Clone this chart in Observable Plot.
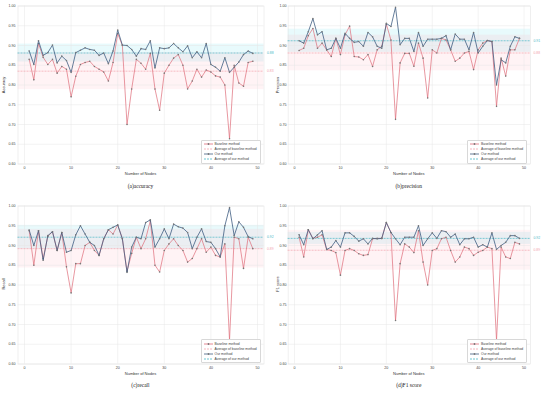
<!DOCTYPE html>
<html><head><meta charset="utf-8">
<script src="https://cdn.jsdelivr.net/npm/d3@7"></script>
<script src="https://cdn.jsdelivr.net/npm/@observablehq/plot@0.6"></script>
<style>
body{margin:0;background:#fff;}
#root{position:relative;width:550px;height:398px;overflow:hidden;font-family:"Liberation Sans",Arial,sans-serif;}
.panel{position:absolute;}
.ylab{position:absolute;font-size:4px;color:#333;white-space:nowrap;transform:translate(-50%,-50%) rotate(-90deg);}
.xlab{position:absolute;font-size:4px;color:#333;white-space:nowrap;transform:translate(-50%,-50%);}
.title{position:absolute;font-family:"Liberation Serif","Times New Roman",serif;font-size:5.5px;color:#222;white-space:nowrap;transform:translate(-50%,-50%);}
.legend{position:absolute;background:#fff;border:0.5px solid #d8d8d8;border-radius:1px;font-size:3.4px;color:#444;padding:1px 2px;box-sizing:border-box;}
.legend div{display:flex;align-items:center;height:5px;white-space:nowrap;}
.legend svg{margin-right:2px;}
</style></head><body><div id="root"></div>
<script>
const nodes = d3.range(1, 50);
const xTicks = [0, 10, 20, 30, 40, 50];
const yTicks = [0.60, 0.65, 0.70, 0.75, 0.80, 0.85, 0.90, 0.95, 1.00];

const accuracyBaseline = [0.865,0.813,0.905,0.87,0.852,0.865,0.83,0.847,0.84,0.77,
 0.822,0.852,0.857,0.86,0.847,0.84,0.833,0.81,0.857,0.93,
 0.90,0.70,0.79,0.865,0.855,0.84,0.88,0.79,0.736,0.83,
 0.85,0.868,0.877,0.85,0.79,0.81,0.84,0.82,0.838,0.833,
 0.823,0.82,0.80,0.664,0.85,0.805,0.797,0.857,0.86];
const accuracyOurs = [0.886,0.852,0.912,0.875,0.882,0.901,0.856,0.873,0.862,0.832,
 0.882,0.888,0.894,0.890,0.888,0.875,0.881,0.854,0.886,0.939,
 0.901,0.90,0.89,0.873,0.892,0.890,0.912,0.843,0.894,0.892,
 0.894,0.905,0.894,0.884,0.899,0.869,0.884,0.869,0.905,0.852,
 0.845,0.835,0.869,0.832,0.845,0.858,0.877,0.886,0.880];

const precisionBaseline = [0.8875,0.893,0.925,0.943,0.893,0.906,0.889,0.872,0.918,0.877,
 0.927,0.949,0.872,0.871,0.864,0.877,0.847,0.889,0.898,0.954,
 0.914,0.713,0.856,0.88,0.88,0.8475,0.906,0.868,0.767,0.889,
 0.881,0.918,0.914,0.889,0.86,0.868,0.881,0.885,0.839,0.889,
 0.906,0.9125,0.91,0.746,0.868,0.8225,0.889,0.889,0.918];
const precisionOurs = [0.912,0.906,0.935,0.968,0.927,0.935,0.889,0.893,0.918,0.893,
 0.931,0.918,0.908,0.91,0.898,0.933,0.922,0.898,0.893,0.956,
 0.948,0.997,0.902,0.918,0.918,0.885,0.933,0.898,0.916,0.916,
 0.916,0.918,0.925,0.889,0.929,0.916,0.916,0.889,0.933,0.881,
 0.898,0.9125,0.91,0.80,0.864,0.856,0.898,0.922,0.918];

const recallBaseline = [0.9375,0.85,0.9375,0.867,0.923,0.935,0.8875,0.933,0.846,0.78,
 0.854,0.854,0.90,0.908,0.8875,0.875,0.917,0.94,0.929,0.952,
 0.917,0.835,0.88,0.921,0.892,0.917,0.9625,0.85,0.833,0.8875,
 0.904,0.917,0.90,0.8875,0.858,0.867,0.892,0.917,0.883,0.896,
 0.875,0.871,0.904,0.66,0.921,0.917,0.842,0.921,0.892];
const recallOurs = [0.939,0.90,0.9375,0.8625,0.925,0.935,0.8875,0.933,0.883,0.8875,
 0.927,0.95,0.929,0.908,0.90,0.875,0.917,0.94,0.946,0.952,
 0.917,0.832,0.896,0.921,0.917,0.958,0.965,0.896,0.917,0.942,
 0.917,0.954,0.9475,0.944,0.933,0.892,0.921,0.942,0.91,0.908,
 0.892,0.871,0.95,0.996,0.925,0.96,0.946,0.9225,0.917];

const f1Baseline = [0.921,0.871,0.94,0.918,0.921,0.927,0.89,0.8875,0.882,0.825,
 0.8875,0.892,0.8875,0.879,0.875,0.877,0.917,0.918,0.918,0.958,
 0.933,0.71,0.854,0.904,0.896,0.882,0.9375,0.858,0.80,0.8875,
 0.892,0.917,0.921,0.8875,0.858,0.871,0.896,0.892,0.875,0.883,
 0.8875,0.896,0.892,0.66,0.896,0.871,0.867,0.908,0.904];
const f1Ours = [0.927,0.902,0.94,0.917,0.927,0.9375,0.89,0.896,0.9125,0.896,
 0.932,0.932,0.923,0.911,0.917,0.904,0.918,0.917,0.918,0.958,
 0.933,0.917,0.902,0.921,0.921,0.921,0.95,0.90,0.917,0.932,
 0.918,0.9375,0.935,0.921,0.929,0.902,0.917,0.917,0.921,0.896,
 0.902,0.896,0.932,0.89,0.90,0.908,0.925,0.925,0.918];

const averageBaseline = [0.835, 0.881, 0.892, 0.888];
const averageOurs = [0.881, 0.912, 0.921, 0.918];
const yLabels = ["Accuracy", "Precision", "Recall", "F1 score"];
const titles = ["(a)accuracy", "(b)precision", "(c)recall", "(d)F1 score"];
const legendLabels = ["Baseline method", "Average of baseline method", "Our method", "Average of our method"];

const C = {base: "#de6b78", our: "#3f5d82", avgBase: "#f2a3ad", avgOur: "#49b7c6", dot: "#777"};

const series = [
  [accuracyBaseline, accuracyOurs],
  [precisionBaseline, precisionOurs],
  [recallBaseline, recallOurs],
  [f1Baseline, f1Ours]
];

const root = document.getElementById("root");
const W = 275, H = 176, MT = 5.5, MB = 12.5;
const layouts = [
  {left: 0, top: 0, fl: 17.5, fr: 263.5},
  {left: 275, top: 0, fl: 12.6, fr: 255},
  {left: 0, top: 199.5, fl: 17.5, fr: 263.5},
  {left: 275, top: 199.5, fl: 12.6, fr: 255}
];

function sd(arr) { return d3.deviation(arr); }

series.forEach(([base, ours], i) => {
  const L = layouts[i];
  const baseData = nodes.map((n, j) => ({node: n, value: base[j]}));
  const ourData = nodes.map((n, j) => ({node: n, value: ours[j]}));
  const aB = averageBaseline[i], aO = averageOurs[i];
  const sB = sd(base), sO = sd(ours);
  const chart = Plot.plot({
    width: W, height: H,
    marginLeft: L.fl, marginRight: W - L.fr, marginTop: MT, marginBottom: MB,
    x: {domain: [-1.4, 51.4], ticks: xTicks, tickSize: 0, tickPadding: 2.5, tickFormat: d => d, label: null},
    y: {domain: [0.6, 1.0], ticks: yTicks, tickSize: 0, tickPadding: i % 2 ? 1.5 : 2.5, tickFormat: ".2f", label: null},
    style: {fontSize: "3.6px", fontFamily: "'Liberation Sans', Arial, sans-serif", color: "#444", background: "transparent", overflow: "visible"},
    marks: [
      Plot.rect([0], {y1: aO - sO, y2: aO + sO, fill: "#7fe6ef", fillOpacity: 0.18}),
      Plot.rect([0], {y1: aB - sB, y2: aB + sB, fill: "#ffb3c0", fillOpacity: 0.16}),
      Plot.ruleX(xTicks, {stroke: "#e6e6e6", strokeWidth: 0.5}),
      Plot.ruleY(yTicks, {stroke: "#e6e6e6", strokeWidth: 0.5}),
      Plot.frame({stroke: "#e0e0e0", strokeWidth: 0.5}),
      Plot.ruleY([aB], {stroke: C.avgBase, strokeWidth: 0.7, strokeDasharray: "2,1"}),
      Plot.ruleY([aO], {stroke: C.avgOur, strokeWidth: 0.7, strokeDasharray: "2,1"}),
      Plot.line(baseData, {x: "node", y: "value", stroke: C.base, strokeWidth: 0.7}),
      Plot.dot(baseData, {x: "node", y: "value", r: 0.8, fill: C.dot}),
      Plot.line(ourData, {x: "node", y: "value", stroke: C.our, strokeWidth: 0.8}),
      Plot.dot(ourData, {x: "node", y: "value", r: 0.8, fill: C.dot}),
      Plot.text([aO], {y: d => d, frameAnchor: "right", dx: 3, textAnchor: "start", text: d => d.toFixed(2), fill: C.avgOur, fontSize: 3.4}),
      Plot.text([aB], {y: d => d, frameAnchor: "right", dx: 3, textAnchor: "start", text: d => d.toFixed(2), fill: C.avgBase, fontSize: 3.4})
    ]
  });
  chart.classList.add("panel");
  chart.style.left = L.left + "px";
  chart.style.top = L.top + "px";
  root.appendChild(chart);

  const cx = L.left + (L.fl + L.fr) / 2;
  const frameBottom = L.top + H - MB;
  const yl = document.createElement("div");
  yl.className = "ylab"; yl.textContent = yLabels[i];
  yl.style.left = (L.left + (i % 2 ? 2 : 3)) + "px";
  yl.style.top = (L.top + MT + (H - MT - MB) / 2) + "px";
  root.appendChild(yl);

  const xl = document.createElement("div");
  xl.className = "xlab"; xl.textContent = "Number of Nodes";
  xl.style.left = cx + "px"; xl.style.top = (frameBottom + 9.5) + "px";
  root.appendChild(xl);

  const t = document.createElement("div");
  t.className = "title"; t.textContent = titles[i];
  t.style.left = cx + "px"; t.style.top = (frameBottom + 22) + "px";
  root.appendChild(t);

  const lg = document.createElement("div");
  lg.className = "legend";
  lg.style.left = (L.left + L.fr - 63) + "px";
  lg.style.top = (frameBottom - 24) + "px";
  lg.style.width = "60px";
  const sw = [
    {stroke: C.base, dash: null, dot: true},
    {stroke: C.avgBase, dash: "2,1", dot: false},
    {stroke: C.our, dash: null, dot: true},
    {stroke: C.avgOur, dash: "2,1", dot: false}
  ];
  sw.forEach((s, k) => {
    const row = document.createElement("div");
    row.innerHTML = `<svg width="9" height="4"><line x1="0" x2="9" y1="2" y2="2" stroke="${s.stroke}" stroke-width="0.8" ${s.dash ? `stroke-dasharray="${s.dash}"` : ""}/>${s.dot ? `<circle cx="4.5" cy="2" r="0.9" fill="${C.dot}"/>` : ""}</svg><span>${legendLabels[k]}</span>`;
    lg.appendChild(row);
  });
  root.appendChild(lg);
});
</script>
</body></html>
